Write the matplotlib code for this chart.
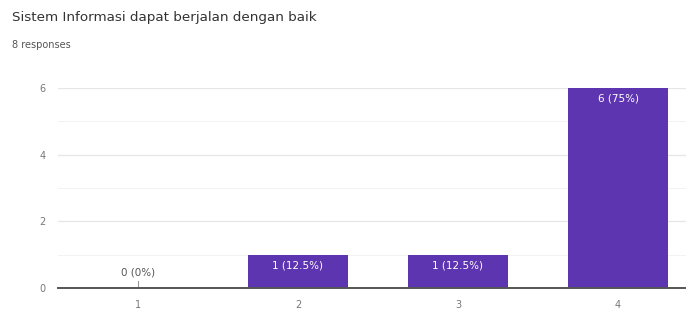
import matplotlib.pyplot as plt
import numpy as np

categories = ["1", "2", "3", "4"]
counts = [0, 1, 1, 6]
labels = ["0 (0%)", "1 (12.5%)", "1 (12.5%)", "6 (75%)"]
title = "Sistem Informasi dapat berjalan dengan baik"
subtitle = "8 responses"

W, H = 686, 310
fig = plt.figure(figsize=(W / 100, H / 100), dpi=100)
ax = fig.add_axes([58 / W, (H - 288) / H, (686 - 58) / W, 200 / H])

x = np.arange(1, len(categories) + 1)
ax.bar(x, counts, width=0.62, color="#5e35b1", zorder=3)

ax.set_xlim(0.5, 4.425)
ax.set_ylim(0, 6)
ax.set_yticks([0, 2, 4, 6])
ax.set_yticks([1, 3, 5], minor=True)
ax.set_xticks(x)
ax.set_xticklabels(categories)
ax.tick_params(axis="both", which="both", length=0, labelsize=7, colors="#777777")
ax.tick_params(axis="x", pad=9)
ax.tick_params(axis="y", pad=9)
ax.grid(axis="y", which="major", color="#e6e6e6", linewidth=0.9, zorder=0)
ax.grid(axis="y", which="minor", color="#f2f2f2", linewidth=0.7, zorder=0)
for s in ["top", "right", "left"]:
    ax.spines[s].set_visible(False)
ax.spines["bottom"].set_color("#555555")
ax.spines["bottom"].set_linewidth(1.4)
ax.spines["bottom"].set_zorder(4)

for xi, c, lab in zip(x, counts, labels):
    if c > 0:
        ax.annotate(lab, (xi, c), xytext=(0, -4), textcoords="offset points",
                    ha="center", va="top", fontsize=7.5, color="white", zorder=5)
    else:
        ax.plot([xi, xi], [0, 0.22], color="#999999", linewidth=0.8, zorder=4)
        ax.annotate(lab, (xi, 0.22), xytext=(0, 2), textcoords="offset points",
                    ha="center", va="bottom", fontsize=7.5, color="#555555", zorder=5)

fig.text(12 / W, 1 - 18 / H, title, fontsize=9.7, color="#333333", va="center")
fig.text(12 / W, 1 - 45 / H, subtitle, fontsize=7, color="#555555", va="center")

fig.savefig("out.png", dpi=100)
